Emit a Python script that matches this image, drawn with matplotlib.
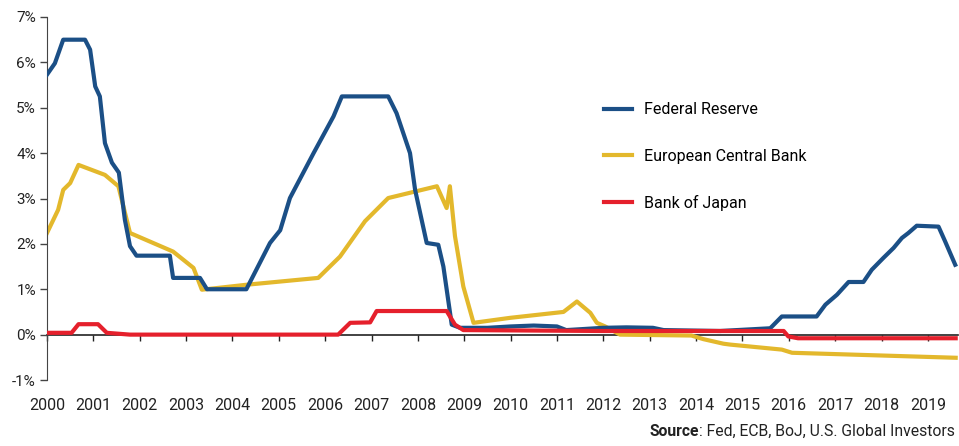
import matplotlib
matplotlib.use("Agg")
import matplotlib.pyplot as plt

# -----------------------------
# Data: year, policy rate in %
# -----------------------------
fed_years = [2000.0, 2000.17, 2000.35, 2000.82, 2000.93, 2001.04, 2001.14, 2001.25, 2001.40,
             2001.55, 2001.68, 2001.79, 2001.93, 2002.65, 2002.72, 2003.30, 2003.45, 2004.30,
             2004.81, 2005.03, 2005.24, 2005.75, 2006.18, 2006.36, 2007.36, 2007.54, 2007.83,
             2007.94, 2008.19, 2008.44, 2008.55, 2008.73, 2008.91, 2009.5, 2010.0, 2010.5,
             2011.0, 2011.2, 2012.0, 2012.5, 2013.07, 2013.3, 2014.52, 2015.6, 2015.85,
             2016.6, 2016.79, 2017.04, 2017.29, 2017.61, 2017.79, 2018.04, 2018.26, 2018.44,
             2018.58, 2018.76, 2019.23, 2019.37, 2019.59]
fed_rate = [5.73, 5.98, 6.5, 6.5, 6.28, 5.47, 5.25, 4.22, 3.79,
            3.57, 2.53, 1.95, 1.74, 1.74, 1.25, 1.25, 1.0, 1.0,
            2.02, 2.3, 3.01, 4.0, 4.81, 5.25, 5.25, 4.88, 4.0,
            3.19, 2.02, 1.98, 1.5, 0.22, 0.15, 0.15, 0.18, 0.2,
            0.18, 0.1, 0.15, 0.16, 0.15, 0.1, 0.08, 0.14, 0.4,
            0.4, 0.66, 0.88, 1.16, 1.16, 1.43, 1.69, 1.91, 2.13,
            2.24, 2.4, 2.38, 2.06, 1.54]

ecb_years = [2000.0, 2000.24, 2000.35, 2000.5, 2000.68, 2001.25, 2001.54, 2001.79, 2002.72,
             2003.16, 2003.34, 2004.31, 2005.03, 2005.85, 2006.32, 2006.86, 2007.36, 2008.41,
             2008.62, 2008.69, 2008.80, 2008.98, 2009.2, 2009.99, 2011.14, 2011.43, 2011.72,
             2011.86, 2012.04, 2012.36, 2013.9, 2014.16, 2014.59, 2014.74, 2015.85, 2016.07,
             2019.6]
ecb_rate = [2.24, 2.75, 3.19, 3.34, 3.74, 3.52, 3.27, 2.24, 1.83,
            1.47, 0.99, 1.10, 1.17, 1.25, 1.72, 2.5, 3.01, 3.27,
            2.79, 3.27, 2.17, 1.06, 0.26, 0.37, 0.5, 0.73, 0.48,
            0.26, 0.18, 0.0, -0.02, -0.1, -0.2, -0.22, -0.33, -0.40,
            -0.51]

boj_years = [2000.0, 2000.53, 2000.68, 2001.1, 2001.29, 2001.79, 2006.28, 2006.54, 2006.97,
             2007.11, 2008.62, 2008.8, 2008.98, 2012.0, 2015.89, 2015.99, 2016.2, 2019.6]
boj_rate = [0.04, 0.04, 0.23, 0.23, 0.04, 0.0, 0.0, 0.26, 0.27,
            0.52, 0.52, 0.22, 0.1, 0.08, 0.08, -0.04, -0.08, -0.08]

year_ticks = list(range(2000, 2020))
pct_ticks = list(range(-1, 8))

# -----------------------------
# Figure
# -----------------------------
plt.rcParams["font.family"] = ["Roboto", "DejaVu Sans"]

fig = plt.figure(figsize=(9.59, 4.46), dpi=100)
ax = fig.add_axes([47 / 959, 1 - 380 / 446, (958 - 47) / 959, (380 - 17) / 446])

ax.plot(fed_years, fed_rate, color="#1b4f86", lw=3, label="Federal Reserve",
        solid_joinstyle="round", zorder=3)
ax.plot(ecb_years, ecb_rate, color="#e3b82c", lw=3, label="European Central Bank",
        solid_joinstyle="round", zorder=2)
ax.plot(boj_years, boj_rate, color="#e5202c", lw=3, label="Bank of Japan",
        solid_joinstyle="round", zorder=4)

ax.set_xlim(2000, 2019.65)
ax.set_ylim(-1, 7)

# y axis
ax.set_yticks(pct_ticks)
ax.set_yticklabels([f"{v}%" for v in pct_ticks], fontsize=11, color="#222222")
ax.tick_params(axis="y", direction="out", length=5, width=1, color="#444444", pad=3)
ax.spines["left"].set_color("#444444")
for s in ["top", "right", "bottom"]:
    ax.spines[s].set_visible(False)

# x labels at the bottom, no tick marks
ax.set_xticks(year_ticks)
ax.set_xticklabels([str(y) for y in year_ticks], fontsize=11.5, color="#222222")
ax.tick_params(axis="x", length=0, pad=13)

# zero line with ticks
zero_frac = (0 - (-1)) / (7 - (-1))
sec = ax.secondary_xaxis(zero_frac)
sec.set_xticks(year_ticks)
sec.set_xticklabels([])
sec.tick_params(direction="out", length=4, width=1, color="#222222")
sec.spines["bottom"].set_color("#222222")
sec.spines["bottom"].set_linewidth(1.2)

# legend
ax.legend(loc="upper left", bbox_to_anchor=(590 / 959, 1 - 88 / 446),
          bbox_transform=fig.transFigure, frameon=False, fontsize=11.5,
          handlelength=1.75, handletextpad=0.7, labelspacing=1.95)

# source
t = fig.text(0.996, 0.016, ": Fed, ECB, BoJ, U.S. Global Investors", ha="right",
             va="bottom", fontsize=11.3, color="#222222")
fig.canvas.draw()
bb = t.get_window_extent(fig.canvas.get_renderer())
fig.text(bb.x0 / fig.bbox.width, 0.016, "Source", ha="right", va="bottom",
         fontsize=11.3, fontweight="bold", color="#222222")

plt.savefig("out.png", dpi=100)
